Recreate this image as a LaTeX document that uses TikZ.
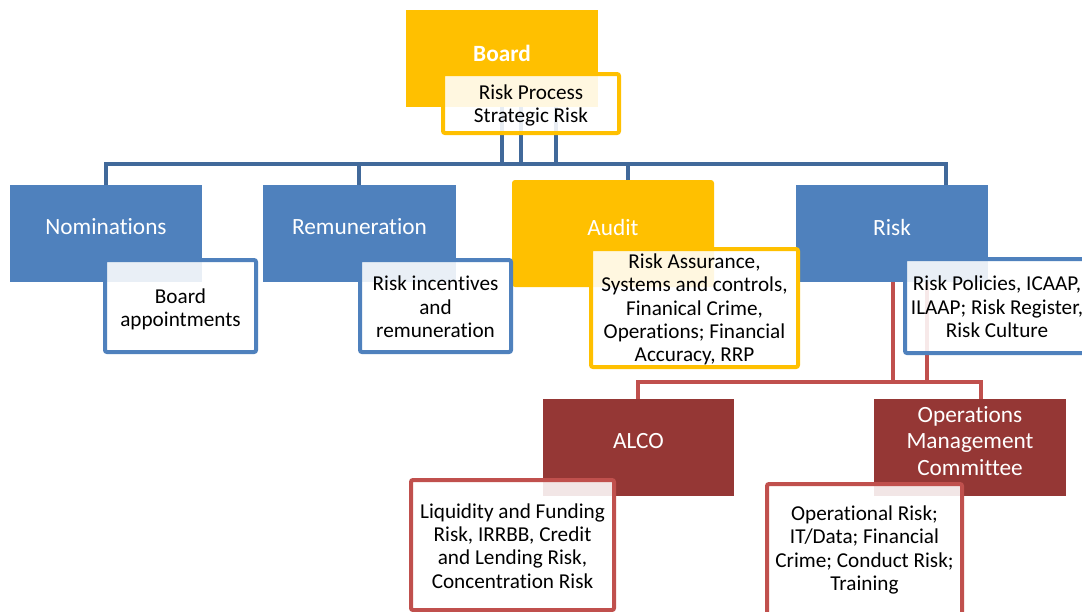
\documentclass[tikz,border=0pt]{standalone}
\usepackage{fontspec}
\setmainfont{Carlito}[Ligatures={NoCommon}]
\definecolor{gold}{HTML}{FFC000}
\definecolor{bfill}{HTML}{4F81BD}
\definecolor{bline}{HTML}{41699A}
\definecolor{rdark}{HTML}{953735}
\definecolor{rline}{HTML}{C0504D}
\tikzset{
  headbox/.style={rectangle, draw=none, inner sep=0pt},
  subbox/.style={rectangle, rounded corners=2pt, line width=4pt, fill=white, fill opacity=0.88, inner sep=0pt},
  headtxt/.style={text=white, font=\fontsize{23.3}{26.5}\selectfont, align=center, inner sep=0pt},
  subtxt/.style={text=black, font=\fontsize{21.2}{23.3}\selectfont, align=center, inner sep=0pt},
  blueconn/.style={draw=bline, line width=4pt},
  redconn/.style={draw=rline, line width=4pt},
}
\begin{document}
\begin{tikzpicture}[x=1pt,y=-1pt]
\clip (0,0) rectangle (1082,611);
\fill[white] (0,0) rectangle (1082,611);
% boxes (head)
\node[headbox, fill=gold, minimum width=192pt, minimum height=97pt] (board) at (502,58.5) {};
\node[headbox, fill=bfill, minimum width=192pt, minimum height=97pt] (nom) at (106,233.5) {};
\node[headbox, fill=bfill, minimum width=193pt, minimum height=97pt] (rem) at (359.5,233.5) {};
\node[headbox, fill=gold, rounded corners=3pt, minimum width=202pt, minimum height=107pt] (aud) at (613,233.5) {};
\node[headbox, fill=bfill, minimum width=192pt, minimum height=97pt] (rsk) at (892,233.5) {};
\node[headbox, fill=rdark, minimum width=191pt, minimum height=97pt] (alco) at (638.5,447.5) {};
\node[headbox, fill=rdark, minimum width=192pt, minimum height=97pt] (omc) at (970,447.5) {};
% blue connectors
\coordinate (bus1) at (106,164);
\coordinate (bus2) at (359,164);
\coordinate (bus3) at (628,164);
\coordinate (bus4) at (946,164);
\draw[blueconn] (board.south) -- (board.south |- bus1);
\draw[blueconn] ([xshift=19pt]board.south) -- ([xshift=19pt]board.south |- bus1);
\draw[blueconn] ([xshift=54pt]board.south) -- ([xshift=54pt]board.south |- bus1);
\draw[blueconn] (nom.north) |- (bus4) -- (bus4 |- rsk.north);
\draw[blueconn] (bus2) -- (bus2 |- rem.north);
\draw[blueconn] (bus3) -- (bus3 |- aud.north);
% red connectors
\coordinate (rbus1) at (638,382);
\coordinate (rbus2) at (981,382);
\draw[redconn] ([xshift=1pt]rsk.south) -- ([xshift=1pt]rsk.south |- rbus1);
\draw[redconn] ([xshift=35pt]rsk.south) -- ([xshift=35pt]rsk.south |- rbus1);
\draw[redconn] (rbus1 |- alco.north) -- (rbus1) -- (rbus2) -- (rbus2 |- omc.north);
% sub boxes
\node[subbox, draw=gold, minimum width=176pt, minimum height=59pt] (rp) at (531,103.5) {};
\node[subbox, draw=bfill, minimum width=151pt, minimum height=92pt] (ba) at (180.5,306) {};
\node[subbox, draw=bfill, minimum width=151pt, minimum height=92pt] (ri) at (435.5,306) {};
\node[subbox, draw=gold, minimum width=207pt, minimum height=118pt] (as) at (694.5,308) {};
\node[subbox, draw=bfill, minimum width=184pt, minimum height=94pt] (rs) at (997,306) {};
\node[subbox, draw=rline, minimum width=203pt, minimum height=130pt] (liq) at (512.5,545) {};
\node[subbox, draw=rline, minimum width=195pt, minimum height=132pt] (opr) at (864.5,550) {};
% heading texts
\node[headtxt, font=\fontsize{23.3}{26.5}\selectfont\bfseries] (boardt) at (502,53) {Board};
\node[headtxt] (nomt) at (106,227) {Nominations};
\node[headtxt] (remt) at (359.5,227) {Remuneration};
\node[headtxt] (audt) at (613,227) {Audit};
\node[headtxt] (rskt) at (892,227) {Risk};
\node[headtxt] (alcot) at (638.5,441) {ALCO};
\node[headtxt] (omct) at (970,441) {Operations\\Management\\Committee};
% sub texts
\node[subtxt] (rpt) at (531,105.5) {Risk Process\\Strategic Risk};
\node[subtxt] (bat) at (180.5,309) {Board\\appointments};
\node[subtxt] (rit) at (435.5,307) {Risk incentives\\and\\remuneration};
\node[subtxt] (ast) at (694.5,309.5) {Risk Assurance,\\Systems and controls,\\Finanical Crime,\\Operations; Financial\\Accuracy, RRP};
\node[subtxt] (rst) at (997,307) {Risk Policies, ICAAP,\\ILAAP; Risk Register,\\Risk Culture};
\node[subtxt] (liqt) at (512.5,546) {Liquidity and Funding\\Risk, IRRBB, Credit\\and Lending Risk,\\Concentration Risk};
\node[subtxt] (oprt) at (864.5,550) {Operational Risk;\\IT/Data; Financial\\Crime; Conduct Risk;\\Training};
\end{tikzpicture}
\end{document}
